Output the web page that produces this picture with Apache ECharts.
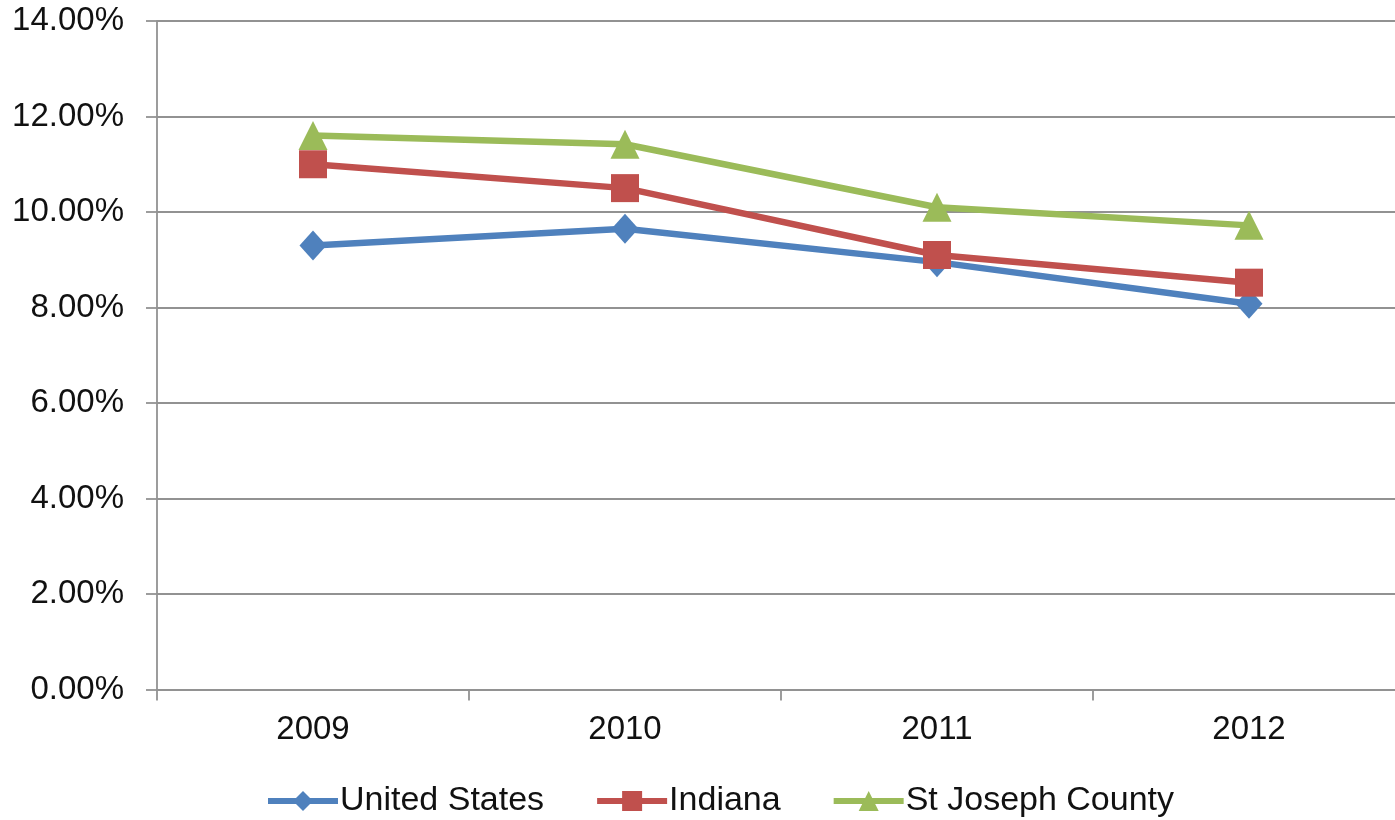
<!DOCTYPE html>
<html>
<head>
<meta charset="utf-8">
<title>Unemployment rate 2009–2012</title>
<script src="https://cdn.jsdelivr.net/npm/echarts@6/dist/echarts.min.js"></script>
<style>
  html, body { margin: 0; padding: 0; background: #ffffff; overflow: hidden; }
  /* the plot runs 10px past the right edge of the window */
  #chart { width: 1405px; height: 820px; }
</style>
</head>
<body>
<div id="chart"></div>
<script>
// Categories and series values (percent)
const years = ['2009', '2010', '2011', '2012'];
const unitedStates = [9.30, 9.65, 8.95, 8.08];
const indiana = [11.00, 10.50, 9.10, 8.52];
const stJosephCounty = [11.60, 11.42, 10.10, 9.72];

const seriesNames = ['United States', 'Indiana', 'St Joseph County'];
const seriesColors = ['#4F81BD', '#C0504D', '#9BBB59'];

const FONT = '"Liberation Sans", Arial, sans-serif';
const GRID_COLOR = '#929292';

function lineSeries(name, data, color, symbol, size) {
  return {
    name: name,
    type: 'line',
    data: data,
    symbol: symbol,
    symbolSize: size,
    showAllSymbol: true,
    lineStyle: { color: color, width: 6.5 },
    itemStyle: { color: color },
    emphasis: { disabled: true }
  };
}

const chart = echarts.init(document.getElementById('chart'), null, { renderer: 'canvas' });

chart.setOption({
  animation: false,
  backgroundColor: '#ffffff',
  grid: { left: 157, right: 0, top: 21, bottom: 130.5, containLabel: false, outerBoundsMode: 'none' },
  xAxis: {
    type: 'category',
    data: years,
    boundaryGap: true,
    axisLine: { show: true, lineStyle: { color: GRID_COLOR, width: 1.8 } },
    axisTick: { show: true, length: 11, lineStyle: { color: GRID_COLOR, width: 1.8 } },
    axisLabel: { color: '#111', fontFamily: FONT, fontSize: 33, margin: 24 },
    splitLine: { show: false }
  },
  yAxis: {
    type: 'value',
    min: 0,
    max: 14,
    interval: 2,
    axisLine: { show: true, lineStyle: { color: GRID_COLOR, width: 1.8 } },
    axisTick: { show: true, length: 11, lineStyle: { color: GRID_COLOR, width: 1.8 } },
    axisLabel: {
      color: '#111', fontFamily: FONT, fontSize: 33, margin: 33,
      formatter: function (v) { return v.toFixed(2) + '%'; }
    },
    splitLine: { show: true, lineStyle: { color: GRID_COLOR, width: 1.8 } }
  },
  legend: {
    data: seriesNames,
    left: 265,
    top: 784,
    padding: 0,
    orient: 'horizontal',
    itemWidth: 70,
    itemHeight: 25,
    itemGap: 50,
    lineStyle: { width: 6 },
    textStyle: { color: '#111', fontFamily: FONT, fontSize: 34, padding: [0, 0, 0, -3] },
    selectedMode: false
  },
  series: [
    lineSeries(seriesNames[0], unitedStates, seriesColors[0], 'diamond', [27, 30]),
    lineSeries(seriesNames[1], indiana, seriesColors[1], 'rect', 28),
    lineSeries(seriesNames[2], stJosephCounty, seriesColors[2], 'triangle', 29)
  ]
});
</script>
</body>
</html>
